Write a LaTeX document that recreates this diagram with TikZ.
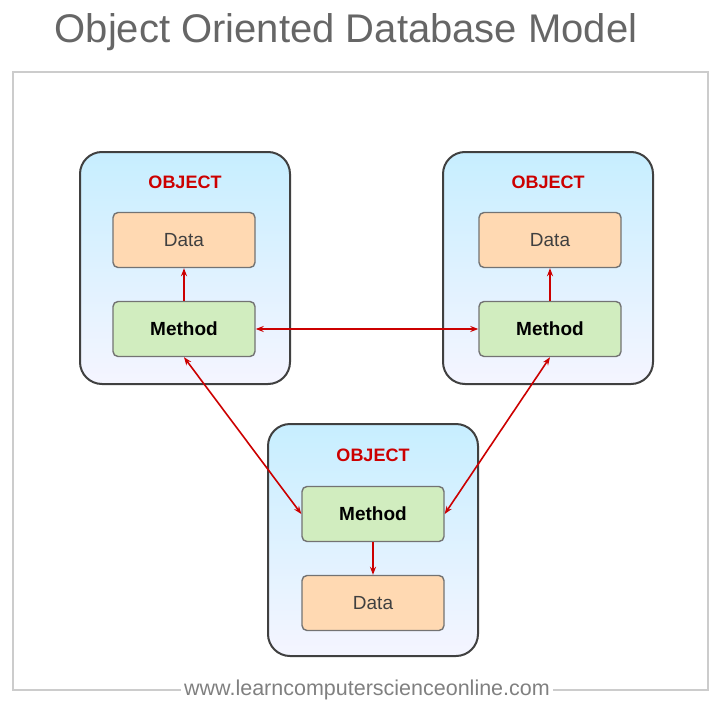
\documentclass[tikz,border=0pt]{standalone}
\usepackage{fontspec}
\setmainfont{Liberation Sans}
\usetikzlibrary{positioning,arrows.meta}
\colorlet{penColor}{red!80!black}
\colorlet{frameColor}{black!20}
\tikzset{
  object/.style={draw=black!75, line width=2pt, rounded corners=22pt,
    top color=blue!30!cyan!22, bottom color=blue!4, minimum width=210pt, minimum height=232pt},
  data/.style={draw=black!55, line width=1.4pt, rounded corners=5pt, fill=orange!30,
    minimum width=142pt, minimum height=55pt, font=\fontsize{19}{22}\selectfont, text=black!75},
  method/.style={draw=black!55, line width=1.4pt, rounded corners=5pt, fill=green!45!olive!25,
    minimum width=142pt, minimum height=55pt, font=\fontsize{19}{22}\selectfont\bfseries},
  objlabel/.style={text=penColor, font=\fontsize{18}{20}\selectfont\bfseries},
  link/.style={penColor, line width=1.6pt, {Stealth[length=8pt]}-{Stealth[length=8pt]}},
  own/.style={penColor, line width=1.6pt, -{Stealth[length=8pt]}}
}
\begin{document}
\begin{tikzpicture}[x=1pt,y=-1pt]
\useasboundingbox (0,0) rectangle (720,717);
% title and frame
\node[text=black!60, font=\fontsize{40}{44}\selectfont] (title) at (346,32) {Object Oriented Database Model};
\node[text=black!50, font=\fontsize{21.5}{24}\selectfont] (site) at (367,690) {www.learncomputerscienceonline.com};
\draw[frameColor, line width=1.4pt] (site.west) -| (13,72) -| (708,690) -- (site.east);
% objects
\node[object] (objL) at (185,268) {};
\node[object] (objR) at (548,268) {};
\node[object] (objB) at (373,540) {};
\node[objlabel] (labL) at (185,182) {OBJECT};
\node[objlabel] (labR) at (548,182) {OBJECT};
\node[objlabel] (labB) at (373,455) {OBJECT};
\node[data] (dataL) at (184,240) {Data};
\node[method] (methL) at (184,329) {Method};
\node[data] (dataR) at (550,240) {Data};
\node[method] (methR) at (550,329) {Method};
\node[method] (methB) at (373,514) {Method};
\node[data] (dataB) at (373,603) {Data};
% connectors
\draw[own] (methL) -- (dataL);
\draw[own] (methR) -- (dataR);
\draw[own] (methB) -- (dataB);
\draw[link] (methL) -- (methR);
\draw[link] (methL.south) -- (methB.west);
\draw[link] (methR.south) -- (methB.east);
\end{tikzpicture}
\end{document}
